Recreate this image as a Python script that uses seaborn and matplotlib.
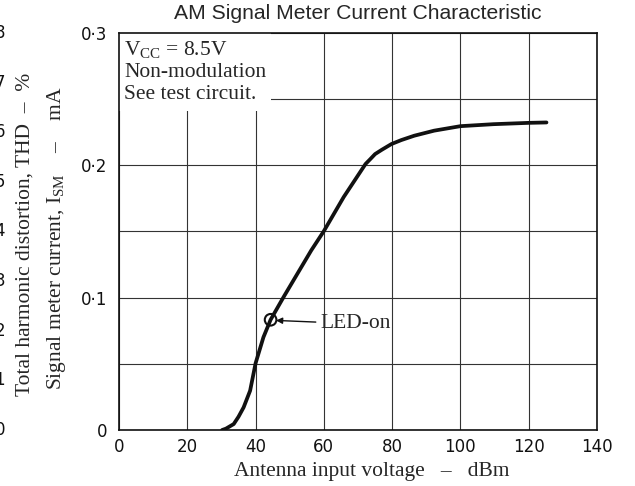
import matplotlib
matplotlib.use("Agg")
import matplotlib.pyplot as plt
import matplotlib.transforms as mtransforms
from matplotlib.patches import Rectangle
import seaborn as sns
import pandas as pd

# ---- data ----
antenna_dbm = [30.2, 31.3, 33.6, 35.0, 36.5, 38.4, 40.0, 42.3, 44.4, 48.3, 56.3,
               60.0, 65.8, 72.2, 73.6, 75.0, 77.0, 79.8, 82.7, 86.5, 92.3,
               100.0, 109.7, 120.0, 125.2]
ism_ma = [0.0, 0.001, 0.0045, 0.010, 0.0171, 0.0297, 0.0504, 0.0701, 0.0833,
          0.1009, 0.1357, 0.1503, 0.176, 0.201, 0.2047, 0.2085, 0.2118, 0.2161,
          0.2191, 0.2224, 0.2262, 0.2296, 0.2311, 0.2321, 0.2324]
led_on = (44.4, 0.0833)
x_ticks = [0, 20, 40, 60, 80, 100, 120, 140]
y_ticks = [0, 0.1, 0.2, 0.3]
y_tick_labels = ["0", "0·1", "0·2", "0·3"]
y_minor = [0.05, 0.15, 0.25]
thd_ticks = [0, 1, 2, 3, 4, 5, 6, 7, 8]

df = pd.DataFrame({"dBm": antenna_dbm, "ISM": ism_ma})

sns.set_style("white")
plt.rcParams["font.family"] = ["DejaVu Sans"]
plt.rcParams["mathtext.fontset"] = "custom"
plt.rcParams["mathtext.rm"] = "Liberation Serif"
plt.rcParams["mathtext.it"] = "Liberation Serif:italic"

fig = plt.figure(figsize=(6.35, 4.86), dpi=100)
ax = fig.add_axes([119 / 635, 1 - 430 / 486, 478 / 635, 397 / 486])

sns.lineplot(data=df, x="dBm", y="ISM", ax=ax, color="#111111", linewidth=2.7)
sns.scatterplot(x=[led_on[0]], y=[led_on[1]], ax=ax, s=70, facecolor="none",
                edgecolor="#111111", linewidth=1.5, zorder=5)

ax.set_xlim(0, 140)
ax.set_ylim(0, 0.3)
ax.set_xticks(x_ticks)
ax.set_xticklabels([str(v) for v in x_ticks])
ax.set_yticks(y_ticks)
ax.set_yticklabels(y_tick_labels)
ax.set_yticks(y_minor, minor=True)
ax.grid(True, which="both", color="#333333", linewidth=0.8)
ax.tick_params(axis="both", which="both", length=0, labelsize=12,
               labelcolor="#111111")
ax.tick_params(axis="x", pad=6)
ax.tick_params(axis="y", pad=8.5)
for s in ax.spines.values():
    s.set_visible(True)
    s.set_color("#111111")
    s.set_linewidth(1.2)
ax.set_xlabel("")
ax.set_ylabel("")

ax.set_title("AM Signal Meter Current Characteristic", family="Liberation Sans",
             fontsize=15.2, pad=10)

# white area behind the condition notes (hides the grid there)
ax.add_patch(Rectangle((0, 0.2407), 44.6, 0.06, facecolor="white",
                       edgecolor="none", zorder=1))

serif = "Liberation Serif"
ax.text(1.6, 0.2955, "V$_{\\mathrm{CC}}$ = 8.5V\nNon-modulation\nSee test circuit.",
        family=serif, fontsize=15.5, va="top", ha="left", linespacing=1.22,
        zorder=4)

ax.annotate("LED-on", xy=(led_on[0] + 1.6, led_on[1] - 0.0005),
            xytext=(59.0, led_on[1] - 0.003), family=serif, fontsize=15.5,
            va="center", ha="left",
            arrowprops=dict(arrowstyle="-|>", color="#111111", lw=1.0,
                            mutation_scale=9, shrinkA=1, shrinkB=0))

fig.text(372 / 635, 1 - 471 / 486, "Antenna input voltage   –   dBm",
         family=serif, fontsize=15.5, ha="center", va="center")
fig.text(57 / 635, 1 - 238 / 486,
         "Signal meter current, I$_{\\mathrm{SM}}$    –    mA",
         family=serif, fontsize=15.5, ha="center", va="center", rotation=90)
fig.text(25 / 635, 1 - 234 / 486,
         "Total harmonic distortion, THD  –  %",
         family=serif, fontsize=15.5, ha="center", va="center", rotation=90)

# left THD scale, cropped at the image edge as in the reference
trans = mtransforms.blended_transform_factory(fig.transFigure, ax.transAxes)
for t in thd_ticks:
    ax.text(5 / 635, t / 8, str(t), transform=trans, ha="right", va="center",
            fontsize=12, color="#111111", clip_on=False)

fig.savefig("out.png", dpi=100)
